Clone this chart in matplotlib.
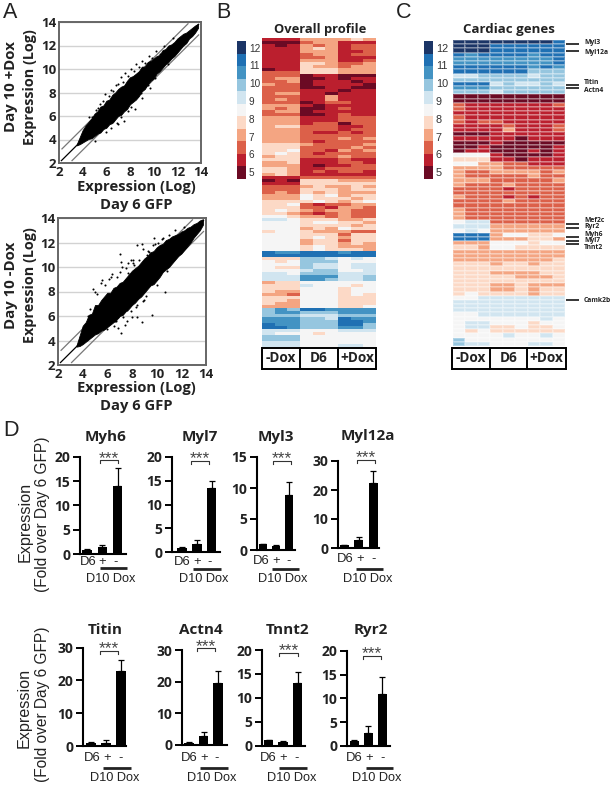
import matplotlib
matplotlib.use("Agg")
import matplotlib.pyplot as plt
from matplotlib.colors import ListedColormap
import numpy as np

W, H = 614, 785
BOLD = "Open Sans"
REG = "Liberation Sans"
plt.rcParams["font.family"] = [BOLD, "DejaVu Sans"]

# ---------- Panel A: scatter envelopes and outliers (log expression) ----------
axis_ticks = [2, 4, 6, 8, 10, 12, 14]
env_x = [3.5, 3.75, 4, 4.25, 4.5, 4.75, 5, 5.25, 5.5, 5.75, 6, 6.25, 6.5, 6.75, 7, 7.25, 7.5, 7.75, 8, 8.25, 8.5,
         8.75, 9, 9.25, 9.5, 9.75, 10, 10.25, 10.5, 10.75, 11, 11.25, 11.5, 11.75, 12, 12.25, 12.5, 12.75, 13,
         13.25, 13.5, 13.75]
plus_upper = [3.6, 4.2, 4.8, 5.2, 5.5, 5.8, 6.2, 6.4, 6.8, 6.9, 7.3, 7.4, 7.8, 8.0, 8.3, 8.5, 8.6, 9.0, 9.3, 9.4, 9.6,
              9.8, 10.2, 10.2, 10.6, 10.7, 10.9, 11.1, 11.2, 11.6, 11.7, 12.0, 12.1, 12.3, 12.6, 12.8, 13.0, 13.1, 13.3,
              13.5, 13.7, 13.85]
plus_lower = [3.5, 3.6, 3.75, 3.9, 4.05, 4.1, 4.3, 4.5, 4.6, 4.9, 5.0, 5.3, 5.4, 5.7, 6.0, 6.1, 6.4, 6.6, 7.0, 7.2, 7.4,
              7.7, 8.1, 8.3, 8.7, 9.0, 9.2, 9.6, 9.8, 10.1, 10.4, 10.6, 10.9, 11.1, 11.4, 11.7, 12.0, 12.2, 12.6,
              12.8, 13.1, 13.5]
plus_out_x = [4.5, 5.1, 5.5, 5.9, 6.4, 6.8, 7.2, 7.6, 8.1, 8.5, 9.0, 9.6, 10.2, 10.9, 6.0, 7.0, 7.5, 8.4, 9.0, 9.7,
              5.0, 6.6, 8.6, 11.6, 4.8, 5.3, 5.7, 6.2, 6.6, 7.0, 7.4, 7.8, 8.3, 8.8, 9.3, 9.9, 10.5, 6.4, 6.9, 7.2,
              7.8, 8.1, 8.9, 9.5, 10.1, 11.2]
plus_out_y = [5.9, 6.5, 7.0, 7.9, 8.2, 8.6, 9.3, 9.7, 10.0, 10.4, 10.7, 11.1, 11.5, 12.0, 4.6, 5.3, 5.6, 6.6, 7.5, 8.4,
              3.9, 5.6, 7.7, 12.6, 5.9, 6.7, 7.3, 7.7, 8.1, 8.7, 8.9, 9.4, 9.8, 10.2, 10.5, 10.9, 11.3, 5.0, 5.4, 5.9,
              6.4, 6.8, 8.0, 8.6, 9.2, 10.4]
minus_upper = [3.6, 4.4, 5.2, 5.5, 6.1, 6.2, 6.9, 6.9, 7.3, 7.6, 7.9, 7.9, 8.3, 8.4, 8.7, 8.8, 9.1, 9.4, 9.7, 9.9, 10.1,
               10.4, 10.7, 10.9, 11.2, 11.3, 11.6, 11.8, 11.9, 12.2, 12.3, 12.5, 12.6, 12.7, 12.9, 13.0, 13.2, 13.3,
               13.5, 13.6, 13.8, 13.9]
minus_lower = [3.5, 3.55, 3.7, 3.9, 4.1, 4.3, 4.5, 4.6, 4.8, 4.9, 5.1, 5.3, 5.5, 5.7, 6.0, 6.1, 6.4, 6.6, 6.9, 7.1, 7.4,
               7.6, 7.9, 8.2, 8.5, 8.6, 8.9, 9.2, 9.6, 9.8, 10.0, 10.3, 10.6, 10.9, 11.1, 11.4, 11.7, 12.0, 12.4, 12.7,
               13.0, 13.45]
minus_out_x = [7.0, 8.8, 8.4, 8.9, 9.75, 7.1, 4.8, 6.1, 5.5, 6.3, 9.6, 10.7, 7.4, 7.1, 6.9, 8.4, 8.8, 8.0, 7.6,
               6.7, 6.5, 7.3, 7.9, 8.3, 7.0, 5.2, 5.8, 6.8, 7.5, 8.1, 8.6, 9.2, 9.9, 10.4, 11.0, 11.5, 12.2,
               5.0, 5.6, 6.4, 7.7, 8.2, 8.7, 9.4, 10.1, 9.0, 7.2, 6.6, 6.2, 4.4, 4.6, 7.9, 8.9, 6.0, 6.9, 7.6,
               8.4, 9.1, 10.0, 10.8, 7.2, 7.7, 8.1, 9.3, 9.7, 10.5]
minus_out_y = [11.1, 11.9, 11.8, 11.5, 12.4, 10.4, 8.2, 9.0, 8.7, 9.2, 6.1, 8.0, 5.3, 4.6, 5.0, 5.9, 5.5, 5.9, 5.6,
               5.6, 5.2, 5.9, 6.4, 6.7, 9.6, 7.8, 8.5, 9.2, 9.9, 10.3, 10.6, 11.0, 11.9, 12.3, 12.6, 13.0, 13.3,
               8.0, 8.9, 9.4, 9.5, 10.2, 10.0, 11.2, 12.0, 7.3, 6.2, 5.6, 5.4, 6.0, 6.6, 10.6, 7.2, 4.9, 5.9, 6.5,
               6.9, 7.6, 8.5, 9.7, 10.0, 10.3, 10.6, 11.3, 11.8, 12.4]

# ---------- Panels B/C: heat-map levels, 0 = lowest, A = highest colour class ----------
legend_values = [12, 11, 10, 9, 8, 7, 6, 5]
profile_columns = ["-Dox", "D6", "+Dox"]
profile_levels = [
    "111333343", "000233111", "101323122", "111343122", "111333112", "111233122", "111223111", "111333112",
    "111443223", "111433233", "011444333", "222444333", "222011000", "233001011", "223011101", "322011110",
    "222001100", "222111011", "233110111", "222113111", "232113111", "222012211", "333101111", "323001211",
    "233011111", "222001211", "333111222", "333111222", "333122022", "344222112", "333222122", "333211212",
    "333222222", "333222323", "333212222", "444322223", "444222232", "445221323", "454212222", "344222322",
    "444111211", "334111221", "333101122", "443112222", "443121221", "343111111", "111222222", "010444333",
    "111444444", "222343343", "222444344", "232434333", "333545344", "333544434", "444454345",
    "445212233", "444221332", "454323322", "443212322", "554332322", "665444334", "555455443", "555444434",
    "555343544", "455433322", "555444244", "555454344", "555344244", "555344343", "555454333", "555454443",
    "988999899", "999999999", "444776565", "545777555", "555766566", "544766566", "555677556", "665777666",
    "666888667", "666887667", "344555555", "444655545", "444555455", "433555455", "332555454", "444555444",
    "443555444", "433555444", "333555445", "787998888", "788777888", "777666777", "888776988", "888777998",
    "988777997", "998777887", "666555666", "655545555", "777555555", "777555555", "666555555", "666555665",
]
cardiac_columns = ["-Dox", "D6", "+Dox"]
cardiac_levels = [
    "AAAAAAAA9", "AAA999999", "AAA999999", "989999899", "888888889", "888888889", "999999898", "999999777",
    "667777677", "777777777", "999676676", "888777777", "777677777", "000000000", "000000000", "211111112",
    "211111111", "111111111", "211111111", "212211111", "111121112", "111131112", "000111111",
    "111110111", "000100000", "001000001", "011000101", "555100001", "444110111",
    "553322111", "333322222", "322333323", "322222322", "333222223", "322232222", "222212222",
    "222222222", "322212122", "222232222", "222222222", "322222222", "322222222", "322222222", "566222222",
    "666333333", "565333333", "999355445", "999333443", "333555455", "443554444", "333333333", "333333333",
    "333333334", "444344344", "444444444", "444333344", "444443334", "444444444", "444334333",
    "444334344", "454444344", "556666666", "666666666", "666666666", "666666666", "556666666", "555555565",
    "566555455", "566445445", "545444444", "555565565", "755555555", "766555665",
]
cardiac_genes_top = ["Myl3", "Myl12a", "Titin", "Actn4", "Mef2c", "Ryr2", "Myh6", "Myl7", "Tnnt2", "Camk2b"]

# ---------- Panel D: bars ----------
bar_genes_1 = ["Myh6", "Myl7", "Myl3", "Myl12a"]
bar_genes_2 = ["Titin", "Actn4", "Tnnt2", "Ryr2"]
myh6_vals, myh6_err = [0.9, 1.5, 14.0], [0.1, 0.3, 3.7]
myl7_vals, myl7_err = [1.0, 1.7, 13.5], [0.1, 0.9, 1.5]
myl3_vals, myl3_err = [0.9, 0.7, 8.8], [0.1, 0.1, 2.1]
myl12a_vals, myl12a_err = [0.9, 2.7, 22.5], [0.1, 1.0, 4.0]
titin_vals, titin_err = [1.0, 1.0, 23.0], [0.1, 0.7, 3.1]
actn4_vals, actn4_err = [0.7, 2.7, 19.5], [0.1, 1.3, 3.9]
tnnt2_vals, tnnt2_err = [1.1, 0.8, 13.2], [0.1, 0.2, 2.3]
ryr2_vals, ryr2_err = [1.0, 2.7, 11.0], [0.1, 1.5, 3.6]
ticks_20 = [0, 5, 10, 15, 20]
ticks_15 = [0, 5, 10, 15]
ticks_30 = [0, 10, 20, 30]

COLORS = ["#6b0a24", "#bb1f2e", "#dc6049", "#f4a582", "#fcd9c6", "#f5f5f5",
          "#d1e5f0", "#96c6df", "#4393c3", "#1f70b3", "#1b3566"]
CMAP = ListedColormap(COLORS)
TXT = "#222222"

fig = plt.figure(figsize=(W / 100, H / 100), dpi=100, facecolor="white")


def box(l, t, r, b, **kw):
    return fig.add_axes([l / W, 1 - b / H, (r - l) / W, (b - t) / H], **kw)


ov = fig.add_axes([0, 0, 1, 1], zorder=20)
ov.set_xlim(0, W)
ov.set_ylim(H, 0)
ov.axis("off")


def label(x, y, s, size=9.5, weight="bold", rot=0, ha="center", family=BOLD, color=TXT):
    ov.text(x, y, s, fontsize=size, fontweight=weight, rotation=rot, ha=ha, va="center",
            family=family, color=color)


def seg(x0, y0, x1, y1, lw=1.0, color="black"):
    ov.plot([x0, x1], [y0, y1], color=color, lw=lw, solid_capstyle="butt")


# Panel letters
for x, y, s in [(10, 13, "A"), (223, 13, "B"), (404, 13, "C"), (11, 431, "D")]:
    label(x, y, s, size=15.5, weight="normal", family=REG)


def scatter_panel(bx, x, up, lo, ox, oy, ylab, cy, xlab_y):
    ax = box(*bx)
    ax.set_xlim(2, 14)
    ax.set_ylim(2, 14)
    ax.yaxis.grid(True, color="#d2d2d2", lw=1.0)
    ax.set_axisbelow(True)
    ax.plot([2.2, 13.8], [2.2, 13.8], color="black", lw=0.9, zorder=2)
    ax.plot([2.25, 12.9], [3.2, 13.85], color="#777777", lw=0.9, zorder=2)
    ax.plot([3.1, 13.8], [2.2, 12.9], color="#777777", lw=0.9, zorder=2)
    ax.fill_between(x, lo, up, color="black", lw=0.6, zorder=3)
    ax.scatter(ox, oy, s=2.2, color="black", lw=0, zorder=3)
    ax.set_xticks(axis_ticks)
    ax.set_yticks(axis_ticks)
    ax.tick_params(length=0, labelsize=9.5, pad=2)
    for t in ax.get_xticklabels() + ax.get_yticklabels():
        t.set_fontweight("bold")
        t.set_color(TXT)
    for s in ax.spines.values():
        s.set_color("#666666")
        s.set_linewidth(1.4)
    label(11, cy, ylab, rot=90, size=10.8)
    label(30, cy, "Expression (Log)", rot=90, size=10.4)
    label(136, xlab_y, "Expression (Log)", size=10.6)
    label(136, xlab_y + 18, "Day 6 GFP", size=10.6)


scatter_panel((59, 22, 201, 163), env_x, plus_upper, plus_lower, plus_out_x, plus_out_y, "Day 10 +Dox", 87, 187)
scatter_panel((58, 218, 206, 365), env_x, minus_upper, minus_lower, minus_out_x, minus_out_y, "Day 10 -Dox", 285, 388)


def level_grid(rows):
    return np.array([[int(c, 11) for c in r] for r in rows])


def legend_bar(l, r, lab_pad, fs):
    ax = box(l, 41, r, 179)
    ax.imshow(np.arange(11)[:, None], cmap=CMAP, vmin=0, vmax=10, aspect="auto",
              extent=(0, 1, 4.62, 12.37), origin="lower", interpolation="nearest")
    ax.set_xticks([])
    ax.yaxis.tick_right()
    ax.set_yticks(legend_values)
    ax.tick_params(length=0, pad=lab_pad, labelsize=fs, labelcolor="#333333")
    for t in ax.get_yticklabels():
        t.set_family(REG)
    for s in ax.spines.values():
        s.set_visible(False)


def column_boxes(l, r, t, b, d1, d2, cols):
    seg(l, t, r, t, 1.4)
    seg(l, b, r, b, 1.4)
    for x in (l, d1, d2, r):
        seg(x, t - 0.7, x, b + 0.7, 1.4)
    label((l + d1) / 2, (t + b) / 2, cols[0], size=9.8)
    label((d1 + d2) / 2, (t + b) / 2, cols[1], size=9.8)
    label((d2 + r) / 2, (t + b) / 2, cols[2], size=9.8)


# Panel B
axb = box(262, 38, 376, 347)
axb.pcolormesh(level_grid(profile_levels), cmap=CMAP, vmin=0, vmax=10)
axb.set_ylim(len(profile_levels), 0)
axb.axis("off")
label(320, 30, "Overall profile", size=9.3)
legend_bar(237, 246, 2, 7.2)
column_boxes(262, 376, 348, 369, 300, 338, profile_columns)

# Panel C
axc = box(453, 40, 565, 346)
g = level_grid(cardiac_levels)
axc.pcolormesh(g, cmap=CMAP, vmin=0, vmax=10, edgecolors="#ffffff40", linewidth=0.3)
axc.set_ylim(len(g), 0)
axc.axis("off")
label(509, 30, "Cardiac genes", size=9.5)
legend_bar(424, 433, 2, 7.8)
column_boxes(452, 566, 348, 369, 490, 527, cardiac_columns)
line_y = [44.3, 50.7, 85, 88.3, 224, 227.7, 237.3, 240.7, 244.3, 300]
text_y = [43, 52, 83, 91, 220, 227, 234, 240.7, 247.7, 300]
for name, ly, ty in zip(cardiac_genes_top, line_y, text_y):
    seg(566, ly, 579, ly, 1.1)
    label(584, ty, name, size=4.9, ha="left")


def bar_panel(title, vals, err, ticks, ymax, ax_x, base_end, y0, ytop, centers, width, tcx, ty,
              br, br_y, lab_x, lab_y, bar_l, bar_y, dox_x, dox_y):
    ax = box(ax_x, ytop, base_end, y0)
    step = (centers[2] - centers[0]) / 2
    ax.set_xlim((ax_x - centers[0]) / step, (base_end - centers[0]) / step)
    ax.set_ylim(0, ymax)
    idx = np.arange(len(vals))
    ax.bar(idx, vals, width=width / step, color="black")
    ax.errorbar(idx, vals, yerr=[[0] * len(vals), err], fmt="none", ecolor="black",
                elinewidth=0.9, capsize=2.4, capthick=0.9, clip_on=False)
    ax.set_xticks([])
    ax.set_yticks(ticks)
    ax.tick_params(axis="y", length=5, width=1.4, labelsize=10, pad=2)
    for t in ax.get_yticklabels():
        t.set_fontweight("bold")
        t.set_color(TXT)
    ax.spines["top"].set_visible(False)
    ax.spines["right"].set_visible(False)
    ax.spines["left"].set_linewidth(1.5)
    ax.spines["bottom"].set_linewidth(1.5)
    ax.patch.set_alpha(0)
    label(tcx, ty, title, size=11)
    # significance bracket
    ov.plot([br[0], br[0], br[1], br[1]], [br_y + 3, br_y, br_y, br_y + 3], color="#333333", lw=0.8)
    label((br[0] + br[1]) / 2, br_y - 1.5, "***", size=12.5, weight="normal", family=REG, color="#444444")
    for x, s in zip(lab_x, ["D6", "+", "-"]):
        label(x, lab_y, s, size=9.4, weight="normal", family=REG)
    seg(bar_l[0], bar_y, bar_l[1], bar_y, 2.0, "#222222")
    label(dox_x, dox_y, "D10 Dox", size=9.2, weight="normal", family=REG)


bar_panel("Myh6", myh6_vals, myh6_err, ticks_20, 20, 80, 126, 554, 456.7, (87, 102.7, 117.7), 9.5, 106, 437,
          (100, 118), 460, (88, 102, 116), 562, (100, 127), 568, 111, 579)
bar_panel("Myl7", myl7_vals, myl7_err, ticks_20, 20, 172, 220, 552.3, 456.7, (182, 197.3, 211.7), 9.5, 200, 437,
          (191, 209), 460.5, (182, 197, 210), 562, (193, 221), 569, 204, 579)
bar_panel("Myl3", myl3_vals, myl3_err, ticks_15, 15, 257, 295, 550, 457, (263, 275.7, 289), 8.7, 276, 437,
          (273, 291), 460.5, (261, 275.7, 289), 561, (272, 299), 569, 283, 579)
bar_panel("Myl12a", myl12a_vals, myl12a_err, ticks_30, 30, 338, 379, 548, 461, (344, 359, 373), 9, 368, 436,
          (357, 375), 459.5, (345, 360, 374), 559, (356, 383), 569, 368, 579)
bar_panel("Titin", titin_vals, titin_err, ticks_30, 30, 83, 126, 746, 647.7, (91, 106, 120.7), 9.7, 105, 630,
          (100, 118), 650.5, (92, 107, 121), 758, (103, 131), 768, 115, 778)
bar_panel("Actn4", actn4_vals, actn4_err, ticks_30, 30, 182, 227, 745, 650, (189, 203.7, 218), 9.3, 201, 630.5,
          (197, 215), 647.7, (189, 204, 217), 758, (200, 228), 768, 212, 778)
bar_panel("Tnnt2", tnnt2_vals, tnnt2_err, ticks_20, 20, 262, 305, 745.7, 650, (268.7, 283.7, 297.7), 9.5, 288, 630,
          (279, 298), 652.5, (268, 283, 297), 758, (279, 307), 768, 292, 778)
bar_panel("Ryr2", ryr2_vals, ryr2_err, ticks_20, 20, 347, 390, 745.7, 651, (354, 368, 382), 9, 371, 630,
          (363, 381), 655.5, (354, 369, 383), 758, (366, 393), 768, 377, 778)

for ex, fx, ey, fy in [(25, 43, 522, 514), (24, 43, 708, 704)]:
    label(ex, ey, "Expression", size=11.6, weight="normal", rot=90, family=REG)
    label(fx, fy, "(Fold over Day 6 GFP)", size=11.2, weight="normal", rot=90, family=REG)

fig.savefig("out.png", dpi=100)
